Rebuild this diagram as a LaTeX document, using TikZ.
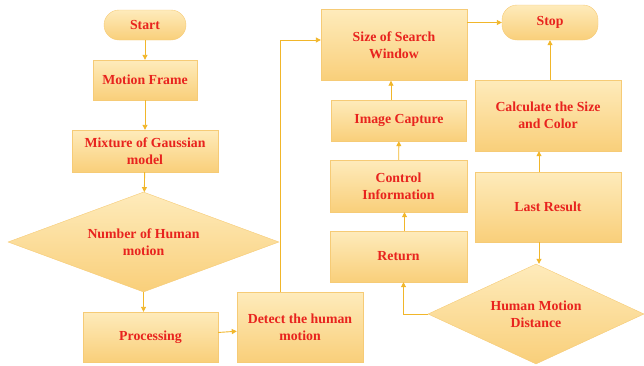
\documentclass[tikz,border=0pt]{standalone}
\usepackage{fontspec}
\setmainfont{Liberation Serif}
\usetikzlibrary{shapes,arrows.meta}
\definecolor{boxtop}{HTML}{FEEBBB}
\definecolor{boxbot}{HTML}{F9CF7A}
\definecolor{boxedge}{HTML}{F6CB76}
\definecolor{flowred}{HTML}{E8231E}
\definecolor{flowline}{HTML}{F1B62A}
\begin{document}
\begin{tikzpicture}[x=1pt, y=-1pt,
  every node/.style = {align=center, font=\fontsize{13.8}{17}\selectfont\bfseries,
    text=flowred, draw=boxedge, line width=0.4pt, inner sep=0pt,
    top color=boxtop, bottom color=boxbot},
  box/.style = {shape=rectangle, minimum width=#1},
  term/.style = {shape=rectangle, rounded corners=15pt},
  decide/.style = {shape=diamond, aspect=2.7, minimum width=#1},
  link/.style = {draw=flowline, line width=0.9pt, -{Triangle[length=5pt,width=5pt]}}]
  \useasboundingbox (0,0) rectangle (644,365);
  \node[term, minimum width=82pt, minimum height=30pt] (start) at (145,25) {Start};
  \node[box=104pt, minimum height=40pt] (motion) at (145,80) {Motion Frame};
  \node[box=146pt, minimum height=42pt] (mixture) at (145,151) {Mixture of Gaussian\\model};
  \node[decide=271pt, minimum height=100pt] (human) at (143.5,242) {Number of Human\\motion};
  \node[box=135pt, minimum height=50pt] (proc) at (150.5,337) {Processing};
  \node[box=126pt, minimum height=70pt] (detect) at (300,327) {Detect the human\\motion};
  \node[box=146pt, minimum height=71pt] (window) at (394,45) {Size of Search\\Window};
  \node[term, minimum width=96pt, minimum height=35pt] (stop) at (550,22.5) {Stop};
  \node[box=135pt, minimum height=41pt] (capture) at (399,120.5) {Image Capture};
  \node[box=137pt, minimum height=52pt] (control) at (398.5,186) {Control\\Information};
  \node[box=137pt, minimum height=51pt] (return) at (398.5,256.5) {Return};
  \node[box=146pt, minimum height=71pt] (calc) at (548,115.5) {Calculate the Size\\and Color};
  \node[box=146pt, minimum height=70pt] (lastres) at (548,207) {Last Result};
  \node[decide=216pt, minimum height=100pt] (distance) at (536,314) {Human Motion\\Distance};
  \draw[link] (start) -- (motion);
  \draw[link] (motion) -- (mixture);
  \draw[link] (mixture) -- (human);
  \draw[link] (human.south) -- (human.south |- proc.north);
  \draw[link] (proc) -- (detect);
  \draw[link] ([xshift=-20pt]detect.north) |- ([yshift=5pt]window.west);
  \draw[link] (window.east |- stop.west) -- (stop.west);
  \draw[link] ([xshift=-8pt]capture.north) -- ([xshift=-8pt]capture.north |- window.south);
  \draw[link] (control) -- (capture);
  \draw[link] ([xshift=6pt]return.north) -- ([xshift=6pt]control.south);
  \draw[link] (distance.west) -| ([xshift=5pt]return.south);
  \draw[link] ([xshift=-9pt]lastres.south) -- ([xshift=-9pt]lastres.south |- distance.north);
  \draw[link] ([xshift=-9pt]lastres.north) -- ([xshift=-9pt]calc.south);
  \draw[link] ([xshift=2pt]calc.north) -- ([xshift=2pt]calc.north |- stop.south);
\end{tikzpicture}
\end{document}
